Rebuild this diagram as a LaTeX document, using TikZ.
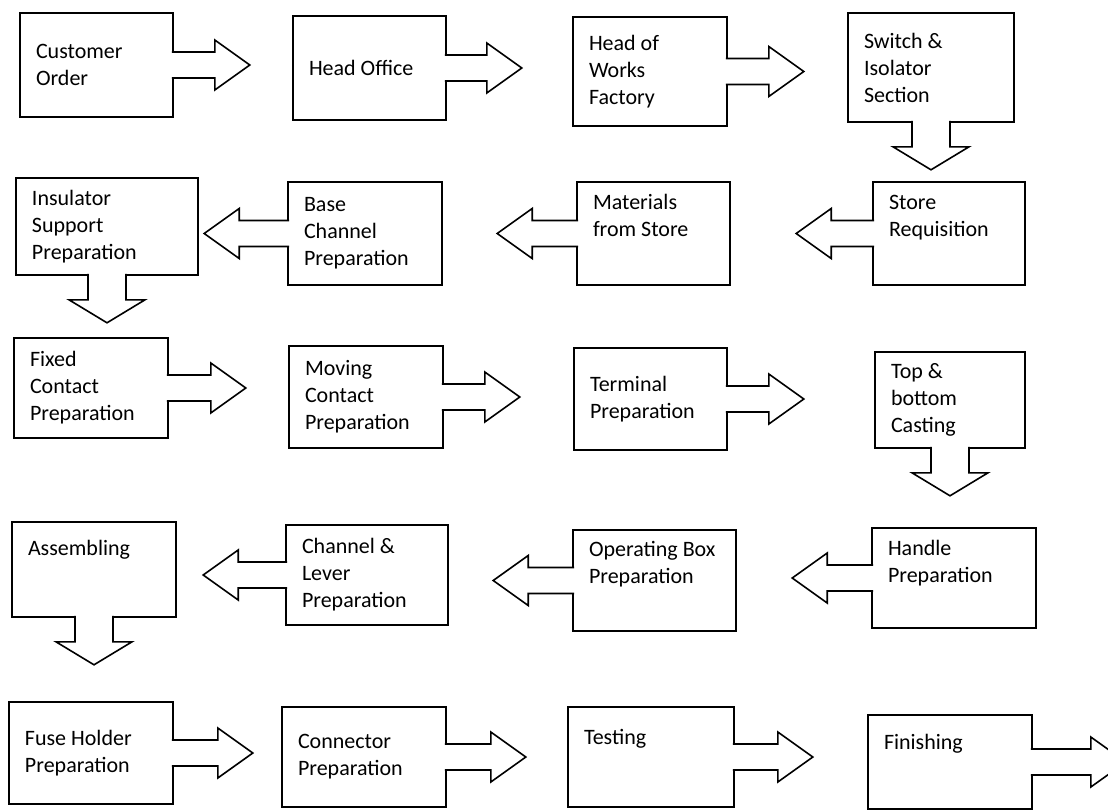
\documentclass[tikz,border=0pt]{standalone}
\usepackage{fontspec}
\setmainfont{Carlito}

\begin{document}
\begin{tikzpicture}[x=0.5pt, y=-0.5pt, font=\fontsize{11pt}{13.5pt}\selectfont,
     box/.style={draw, line width=.8pt, align=flush left, inner xsep=8pt, inner ysep=0pt, text width=#1},
     arw/.style={draw, line width=.8pt, fill=white, line join=miter},
     pics/rarr/.style={code={\filldraw[arw] (-2,-13) -- (#1,-13) -- (#1,-25) -- ({#1+35},0) -- (#1,25) -- (#1,13) -- (-2,13);}},
     pics/darr/.style={code={\filldraw[arw] (-19,-2) -- (-19,24) -- (-38,24) -- (0,47) -- (38,24) -- (19,24) -- (19,-2);}}]
    \useasboundingbox (0,0) rectangle (1108,810);
    \clip (0,0) rectangle (1108,810);
    \fill[white] (0,0) rectangle (1108,810);
    % row 1
    \node[box=60.5pt, minimum height=52pt] (co) at (96.5,65) {Customer\\Order};
    \node[box=60.5pt, minimum height=52pt] (ho) at (369.5,68) {Head Office};
    \node[box=61pt, minimum height=54.5pt] (hw) at (650,71.5) {Head of\\Works\\Factory};
    \node[box=67pt, minimum height=54.5pt] (sw) at (931,67.5) {Switch \&\\Isolator\\Section};
    % row 2
    \node[box=60pt, minimum height=51.5pt] (sr) at (949,233.5) {Store\\Requisition\\[4.5pt]\mbox{}};
    \node[box=60.5pt, minimum height=51.5pt] (ms) at (653.5,233.5) {Materials\\from Store\\[4.5pt]\mbox{}};
    \node[box=61pt, minimum height=51.5pt] (bc) at (365,233.5) {Base\\Channel\\Preparation};
    \node[box=75pt, minimum height=48.5pt] (is) at (107,226.5) {Insulator\\Support\\Preparation};
    % row 3
    \node[box=61pt, minimum height=50pt] (fc) at (91,388) {Fixed\\Contact\\Preparation};
    \node[box=61pt, minimum height=51pt] (mc) at (366,397) {Moving\\Contact\\Preparation};
    \node[box=60.5pt, minimum height=51pt] (tp) at (650.5,399) {Terminal\\Preparation};
    \node[box=59pt, minimum height=48pt] (tb) at (950,400) {Top \&\\bottom\\Casting};
    % row 4
    \node[box=66pt, minimum height=50pt] (hp) at (954,578) {Handle\\Preparation\\[3pt]\mbox{}};
    \node[box=65.5pt, minimum height=50.5pt] (ob) at (654.5,580.5) {Operating Box\\Preparation\\[4.5pt]\mbox{}};
    \node[box=65pt, minimum height=50pt] (cl) at (367,575) {Channel \&\\Lever\\Preparation};
    \node[box=66pt, minimum height=47.5pt] (as) at (94,569.5) {Assembling\\[8pt]\mbox{}};
    % row 5
    \node[box=66pt, minimum height=51pt] (fh) at (91,753) {Fuse Holder\\Preparation};
    \node[box=66pt, minimum height=50pt] (cn) at (364,757) {Connector\\Preparation};
    \node[box=67pt, minimum height=50pt] (ts) at (651,757) {Testing\\[6.5pt]\mbox{}};
    \node[box=66pt, minimum height=47pt] (fi) at (950,762) {Finishing\\[6.5pt]\mbox{}};
    % block arrows
    \pic at (co.east) {rarr=41};
    \pic at (ho.east) {rarr=40};
    \pic at (hw.east) {rarr=41};
    \pic at (sw.south) {darr};
    \pic[rotate=180] at (sr.west) {rarr=41};
    \pic[rotate=180] at (ms.west) {rarr=44};
    \pic[rotate=180] at (bc.west) {rarr=48};
    \pic at (is.south) {darr};
    \pic at (fc.east) {rarr=42};
    \pic at (mc.east) {rarr=41};
    \pic at (tp.east) {rarr=41};
    \pic at (tb.south) {darr};
    \pic[rotate=180] at (hp.west) {rarr=44};
    \pic[rotate=180] at (ob.west) {rarr=44};
    \pic[rotate=180] at (cl.west) {rarr=47};
    \pic at (as.south) {darr};
    \pic at (fh.east) {rarr=44};
    \pic at (cn.east) {rarr=44};
    \pic at (ts.east) {rarr=43};
    \pic at (fi.east) {rarr=58};
  \end{tikzpicture}
\end{document}
